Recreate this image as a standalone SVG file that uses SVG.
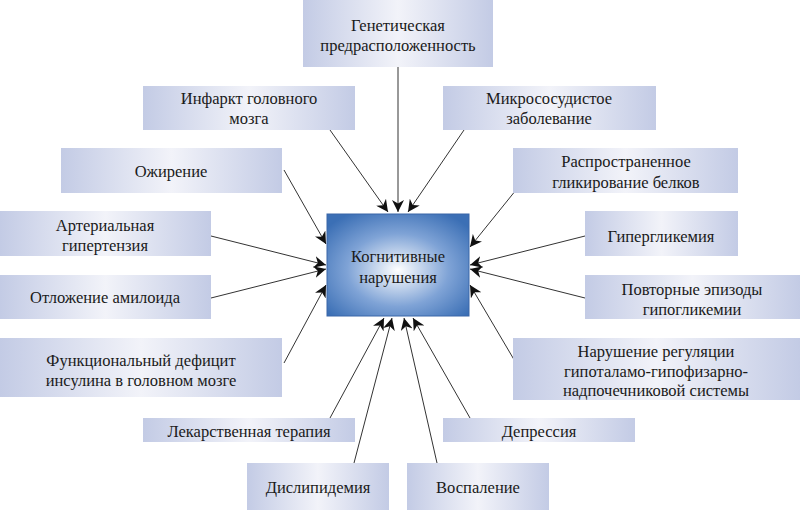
<svg xmlns="http://www.w3.org/2000/svg" width="800" height="510" viewBox="0 0 800 510">
<style>
.b{fill:url(#g)}
text{font-family:"Liberation Serif","DejaVu Serif",serif;font-size:16.5px;fill:#1a1a1a;text-anchor:middle}
.c line{stroke:#333;stroke-width:1;marker-end:url(#a)}
</style>
<defs>
<linearGradient id="g" x1="0" x2="1" y1="0" y2="0"><stop offset="0" stop-color="#c3cbe5"/><stop offset="0.5" stop-color="#f2f3f9"/><stop offset="1" stop-color="#c3cbe5"/></linearGradient>
<radialGradient id="r" cx="0.5" cy="0.55" r="0.65"><stop offset="0" stop-color="#ffffff"/><stop offset="0.55" stop-color="#7fa3d6"/><stop offset="1" stop-color="#3b6fb5"/></radialGradient>
<marker id="a" viewBox="0 0 10 10" refX="10" refY="5" markerWidth="12" markerHeight="12" markerUnits="userSpaceOnUse" orient="auto"><path d="M0,0L10,5L0,10L3,5Z" fill="#111"/></marker>
</defs>
<g class="c">
<line x1="398" y1="67" x2="398" y2="212"/>
<line x1="330" y1="130" x2="388" y2="212"/>
<line x1="464" y1="130" x2="408" y2="212"/>
<line x1="284" y1="170" x2="326" y2="244"/>
<line x1="516" y1="190" x2="470" y2="247"/>
<line x1="211" y1="236" x2="326" y2="265"/>
<line x1="585" y1="236" x2="470" y2="265"/>
<line x1="211" y1="298" x2="326" y2="269"/>
<line x1="585" y1="298" x2="470" y2="269"/>
<line x1="284" y1="363" x2="326" y2="285"/>
<line x1="516" y1="363" x2="470" y2="285"/>
<line x1="330" y1="418" x2="384" y2="318"/>
<line x1="354" y1="463" x2="392" y2="318"/>
<line x1="437" y1="463" x2="404" y2="318"/>
<line x1="470" y1="418" x2="413" y2="318"/>
</g>
<g id="center"><rect x="327" y="214" width="142" height="102" fill="url(#r)" stroke="#3a66a8"/><text x="398" y="262" font-size="17">Когнитивные</text><text x="398" y="283" font-size="17">нарушения</text></g>
<g id="n1"><rect class="b" x="303" y="0" width="190" height="67"/><text x="398" y="31">Генетическая</text><text x="398" y="51">предрасположенность</text></g>
<g id="n2"><rect class="b" x="143" y="86" width="212" height="44"/><text x="249" y="104">Инфаркт головного</text><text x="249" y="124">мозга</text></g>
<g id="n3"><rect class="b" x="443" y="86" width="213" height="44"/><text x="549" y="104">Микрососудистое</text><text x="549" y="124">заболевание</text></g>
<g id="n4"><rect class="b" x="61" y="148" width="221" height="45"/><text x="171" y="177">Ожирение</text></g>
<g id="n5"><rect class="b" x="513" y="148" width="225" height="45"/><text x="626" y="167">Распространенное</text><text x="626" y="188">гликирование белков</text></g>
<g id="n6"><rect class="b" x="0" y="211" width="211" height="45"/><text x="105" y="231">Артериальная</text><text x="105" y="251">гипертензия</text></g>
<g id="n7"><rect class="b" x="585" y="211" width="153" height="45"/><text x="661" y="242">Гипергликемия</text></g>
<g id="n8"><rect class="b" x="0" y="275" width="211" height="44"/><text x="105" y="303">Отложение амилоида</text></g>
<g id="n9"><rect class="b" x="585" y="275" width="215" height="44"/><text x="692" y="295">Повторные эпизоды</text><text x="692" y="315">гипогликемии</text></g>
<g id="n10"><rect class="b" x="0" y="338" width="282" height="59"/><text x="141" y="366">Функциональный дефицит</text><text x="141" y="386">инсулина в головном мозге</text></g>
<g id="n11"><rect class="b" x="513" y="338" width="287" height="62"/><text x="656" y="357">Нарушение регуляции</text><text x="656" y="377">гипоталамо-гипофизарно-</text><text x="656" y="396">надпочечниковой системы</text></g>
<g id="n12"><rect class="b" x="143" y="418" width="212" height="24"/><text x="249" y="437">Лекарственная терапия</text></g>
<g id="n13"><rect class="b" x="443" y="418" width="192" height="24"/><text x="539" y="437">Депрессия</text></g>
<g id="n14"><rect class="b" x="247" y="463" width="142" height="47"/><text x="318" y="493">Дислипидемия</text></g>
<g id="n15"><rect class="b" x="407" y="463" width="142" height="47"/><text x="478" y="493">Воспаление</text></g>
</svg>
